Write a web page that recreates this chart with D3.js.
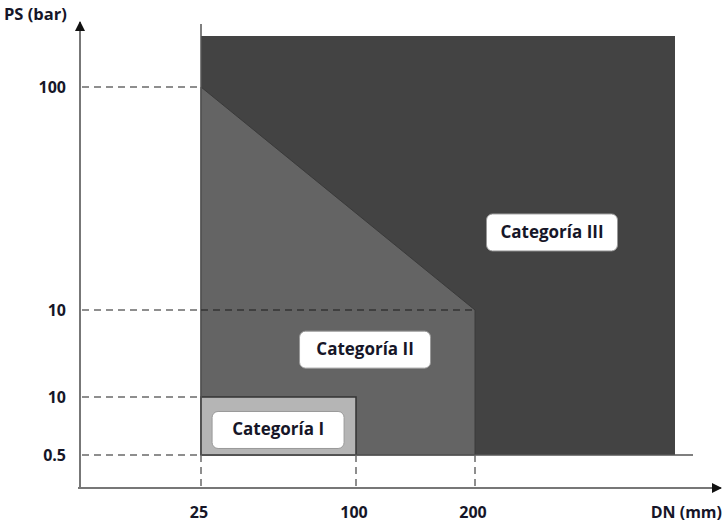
<!DOCTYPE html>
<html>
<head>
<meta charset="utf-8">
<script src="https://cdn.jsdelivr.net/npm/d3@7"></script>
<style>
  body { margin: 0; background: #fff; }
  text { font-family: "Open Sans", sans-serif; font-weight: 700; fill: #161628; }
</style>
</head>
<body>
<div id="chart"></div>
<script>
// Data
const xTickValues = [25, 100, 200];
const xTickLabels = ["25", "100", "200"];
const yTickLevels = [0, 1, 2, 3];
const yTickLabels = ["0.5", "10", "10", "100"];

// Scale breakpoints (non-uniform axes, as in the reference)
const xDomain = [0, 25, 100, 200, 300];
const yDomain = [-0.57, 0, 1, 2, 3, 3.23];

// Regions: [DN, level] corners
const catIII = [[25, 0], [25, 3.23], [300, 3.23], [300, 0]];
const catII = [[25, 0], [25, 3], [200, 2], [200, 0]];
const catI = [[25, 0], [25, 1], [100, 1], [100, 0]];

const labels = [
  { text: "Categoría I", x: 62.3, y: 0.44, w: 132 },
  { text: "Categoría II", x: 107.6, y: 1.55, w: 131 },
  { text: "Categoría III", x: 238.5, y: 2.35, w: 131 }
];

const width = 722, height = 524;

const x = d3.scaleLinear().domain(xDomain).range([80, 201, 356, 475, 675]);
const y = d3.scaleLinear().domain(yDomain).range([488, 455, 397, 310, 87, 36]);

const svg = d3.select("#chart").append("svg")
  .attr("width", width)
  .attr("height", height);

const defs = svg.append("defs");
defs.append("marker")
  .attr("id", "arrow")
  .attr("viewBox", "0 0 10 10")
  .attr("refX", 9).attr("refY", 5)
  .attr("markerWidth", 5).attr("markerHeight", 5)
  .attr("orient", "auto")
  .append("path")
  .attr("d", "M0,0 L10,5 L0,10 z")
  .attr("fill", "#111");

const poly = d3.line().x(d => x(d[0])).y(d => y(d[1]));

// Regions
svg.append("path").attr("d", poly(catIII) + "Z").attr("fill", "#434343");
svg.append("path").attr("d", poly(catII) + "Z").attr("fill", "#646464")
  .attr("stroke", "#3a3a3a").attr("stroke-width", 1);
svg.append("path").attr("d", poly(catI) + "Z").attr("fill", "#b5b5b5")
  .attr("stroke", "#333").attr("stroke-width", 1.5);

// Frame lines
svg.append("line")
  .attr("x1", x(25)).attr("x2", x(25))
  .attr("y1", 24).attr("y2", y(0))
  .attr("stroke", "#555").attr("stroke-width", 1.5);
svg.append("line")
  .attr("x1", x(25)).attr("x2", 693)
  .attr("y1", y(0)).attr("y2", y(0))
  .attr("stroke", "#555").attr("stroke-width", 1.5);

// Horizontal dashed guides
yTickLevels.forEach(lv => {
  svg.append("line")
    .attr("x1", x(0) + 2).attr("x2", x(25))
    .attr("y1", y(lv)).attr("y2", y(lv))
    .attr("stroke", "#6a6a6a").attr("stroke-width", 1.5)
    .attr("stroke-dasharray", "7,5");
});
svg.append("line")
  .attr("x1", x(25)).attr("x2", x(200))
  .attr("y1", y(2)).attr("y2", y(2))
  .attr("stroke", "#333").attr("stroke-width", 1.5)
  .attr("stroke-dasharray", "7,5");

// Vertical dashed guides
xTickValues.forEach(v => {
  svg.append("line")
    .attr("x1", x(v)).attr("x2", x(v))
    .attr("y1", y(0)).attr("y2", y(yDomain[0]))
    .attr("stroke", "#6a6a6a").attr("stroke-width", 1.5)
    .attr("stroke-dasharray", "7,5");
});

// Axes
svg.append("line")
  .attr("x1", x(0)).attr("x2", x(0))
  .attr("y1", y(yDomain[0]) + 1).attr("y2", 22)
  .attr("stroke", "#777").attr("stroke-width", 2)
  .attr("marker-end", "url(#arrow)");
svg.append("line")
  .attr("x1", x(0) - 2).attr("x2", 721)
  .attr("y1", y(yDomain[0])).attr("y2", y(yDomain[0]))
  .attr("stroke", "#777").attr("stroke-width", 2)
  .attr("marker-end", "url(#arrow)");

// Tick labels
svg.selectAll(".ytick").data(yTickLevels).enter().append("text")
  .attr("class", "ytick")
  .attr("x", 66).attr("y", d => y(d) + 6)
  .attr("text-anchor", "end")
  .style("font-size", "16px")
  .text((d, i) => yTickLabels[i]);

svg.selectAll(".xtick").data(xTickValues).enter().append("text")
  .attr("class", "xtick")
  .attr("x", d => x(d) - 2).attr("y", 518)
  .attr("text-anchor", "middle")
  .style("font-size", "16px")
  .text((d, i) => xTickLabels[i]);

// Axis titles
svg.append("text").attr("x", 4).attr("y", 20)
  .style("font-size", "16.5px").text("PS (bar)");
svg.append("text").attr("x", 722).attr("y", 518)
  .attr("text-anchor", "end")
  .style("font-size", "16px").text("DN (mm)");

// Category labels
const lab = svg.selectAll(".lab").data(labels).enter().append("g")
  .attr("transform", d => `translate(${x(d.x)},${y(d.y)})`);
lab.append("rect")
  .attr("x", d => -d.w / 2).attr("y", -18)
  .attr("width", d => d.w).attr("height", 37)
  .attr("rx", 6)
  .attr("fill", "#fff").attr("stroke", "#999").attr("stroke-width", 1);
lab.append("text")
  .attr("text-anchor", "middle").attr("y", 6)
  .style("font-size", "17px").style("font-weight", 700)
  .text(d => d.text);
</script>
</body>
</html>
